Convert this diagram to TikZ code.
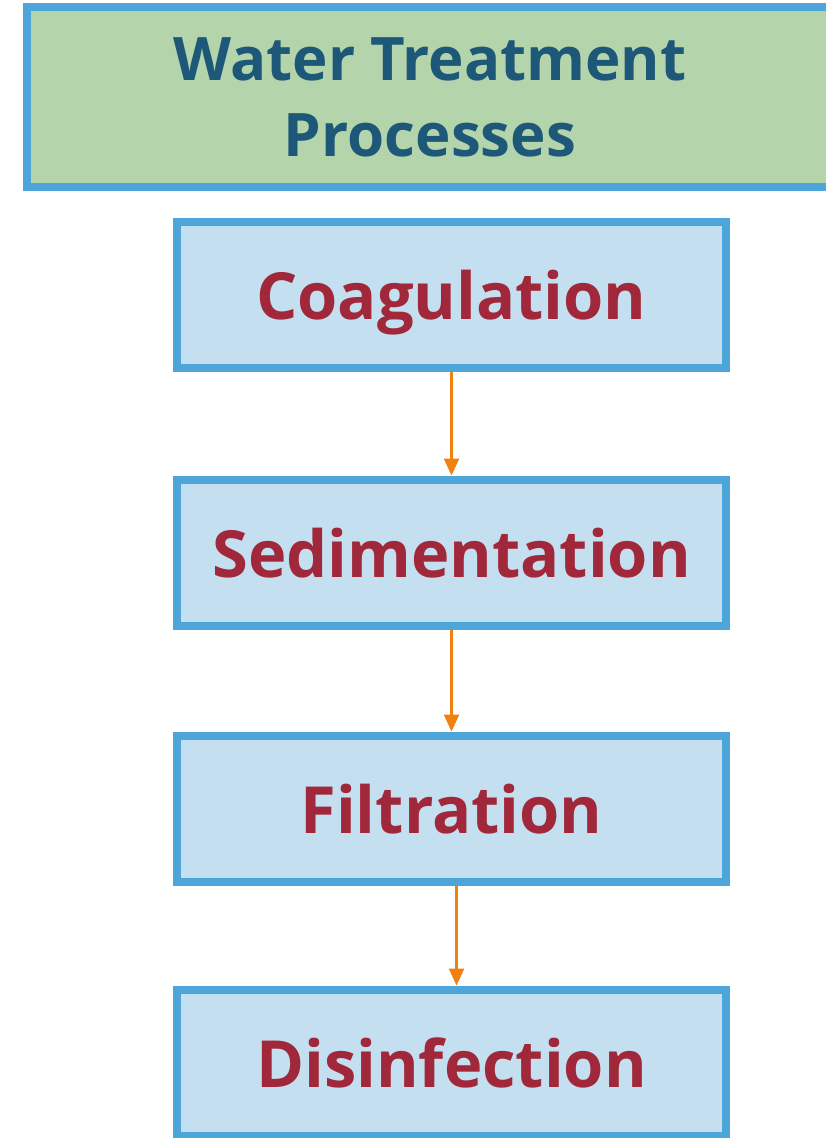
\documentclass[tikz,border=0pt]{standalone}
\usepackage{fontspec}
\setmainfont{Open Sans}
\usetikzlibrary{arrows.meta}
\definecolor{framebl}{HTML}{4EA5D9}
\definecolor{titlegr}{HTML}{B4D4AC}
\definecolor{titlebl}{HTML}{1E5878}
\definecolor{stepfill}{HTML}{C4E0F0}
\definecolor{stepred}{HTML}{A0283A}
\definecolor{flowor}{HTML}{F08010}
\tikzset{
  titlebox/.style = {draw=framebl, fill=titlegr, line width=8pt,
    minimum width=806pt, minimum height=180pt, inner sep=0pt,
    align=center, text=titlebl, font=\bfseries\fontsize{60}{80}\selectfont},
  stepbox/.style = {draw=framebl, fill=stepfill, line width=8pt,
    minimum width=549pt, minimum height=146pt, inner sep=0pt,
    text=stepred, font=\bfseries\fontsize{65}{70}\selectfont},
  flow/.style = {draw=flowor, line width=2.5pt,
    -{Triangle[width=15pt,length=17pt]}}
}
\begin{document}
\begin{tikzpicture}[x=1pt, y=-1pt]
\useasboundingbox (0,0) rectangle (825,1138);
%%%% Title:
\node[titlebox] (title) at (430,97) {\raisebox{-4pt}{Water Treatment}\\Processes};
%%%% Steps:
\node[stepbox, text depth=-6pt] (coag) at (451.5,295) {Coagulation};
\node[stepbox, text depth=-6pt] (sedi) at (451.5,552.5) {Sedimentation};
\node[stepbox, text depth=-6pt] (filt) at (451.5,808.5) {Filtration};
\node[stepbox, text depth=-6pt] (disi) at (451.5,1062.5) {Disinfection};
%%%% Arrows:
\draw[flow] (coag.south) -- (sedi.north);
\draw[flow] (sedi.south) -- (filt.north);
\draw[flow] ([xshift=5pt]filt.south) -- ([xshift=5pt]disi.north);
\end{tikzpicture}
\end{document}
